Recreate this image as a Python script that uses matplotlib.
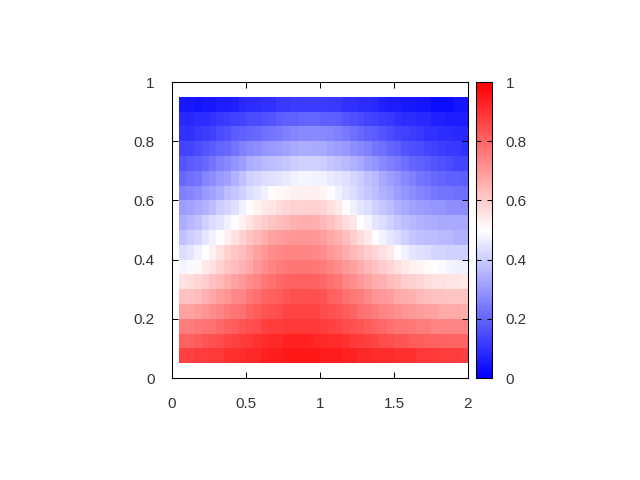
import numpy as np
import matplotlib
matplotlib.use('Agg')
import matplotlib.pyplot as plt
from matplotlib.colors import LinearSegmentedColormap

plt.rcParams['font.family'] = ['Liberation Sans', 'DejaVu Sans']

# cell edges of the map
x_edges = np.arange(0.05, 2.0001, 0.05)
y_edges = np.arange(0.05, 0.9501, 0.05)

# values row by row, bottom row first
row_05 = [.87,.87,.88,.88,.89,.89,.90,.90,.91,.92,.92,.93,.94,.94,.95,.95,.95,.95,.95,.94,.94,.94,.93,.93,.92,.92,.91,.91,.91,.90,.90,.90,.89,.89,.89,.88,.88,.88,.87]
row_10 = [.81,.81,.82,.83,.84,.85,.86,.87,.88,.89,.90,.91,.92,.92,.93,.93,.93,.93,.92,.92,.91,.91,.90,.89,.88,.87,.86,.85,.84,.83,.83,.82,.82,.81,.81,.81,.80,.80,.80]
row_15 = [.75,.75,.76,.77,.78,.79,.81,.82,.83,.84,.85,.87,.88,.88,.89,.89,.89,.89,.89,.88,.87,.86,.85,.84,.83,.82,.80,.79,.78,.77,.77,.76,.75,.75,.74,.74,.74,.74,.74]
row_20 = [.68,.68,.69,.71,.72,.74,.75,.77,.78,.80,.82,.83,.84,.85,.86,.86,.86,.86,.86,.85,.84,.83,.82,.80,.78,.77,.75,.74,.73,.72,.71,.70,.69,.68,.68,.67,.67,.67,.66]
row_25 = [.62,.62,.63,.65,.67,.69,.71,.73,.74,.76,.78,.80,.81,.82,.83,.84,.84,.84,.84,.83,.81,.80,.78,.76,.75,.73,.71,.70,.69,.67,.66,.65,.64,.63,.62,.62,.61,.61,.61]
row_30 = [.56,.57,.58,.60,.62,.64,.66,.68,.70,.72,.74,.76,.78,.79,.80,.81,.81,.81,.80,.79,.78,.76,.74,.72,.70,.68,.66,.65,.63,.62,.60,.59,.58,.57,.56,.56,.55,.55,.54]
row_35 = [.48,.49,.51,.54,.56,.59,.61,.63,.65,.67,.70,.72,.74,.75,.76,.77,.77,.77,.76,.75,.74,.72,.70,.68,.66,.64,.62,.60,.58,.56,.54,.53,.52,.51,.50,.49,.48,.47,.47]
row_40 = [.43,.45,.47,.50,.53,.56,.59,.61,.63,.65,.68,.70,.72,.73,.74,.74,.74,.74,.73,.72,.70,.68,.66,.64,.62,.60,.58,.56,.54,.50,.47,.45,.44,.43,.42,.42,.41,.41,.41]
row_45 = [.38,.40,.42,.45,.47,.50,.53,.56,.59,.61,.64,.66,.68,.69,.70,.71,.71,.71,.70,.69,.67,.65,.63,.60,.57,.54,.50,.47,.45,.43,.41,.39,.38,.37,.37,.36,.36,.35,.35]
row_50 = [.34,.36,.38,.41,.43,.45,.47,.50,.53,.55,.58,.60,.61,.63,.64,.65,.66,.66,.65,.64,.62,.60,.57,.55,.50,.48,.45,.43,.41,.39,.37,.36,.35,.34,.34,.33,.33,.33,.33]
row_55 = [.31,.32,.33,.35,.37,.40,.42,.44,.47,.50,.52,.54,.55,.57,.58,.59,.59,.59,.59,.58,.56,.54,.50,.47,.45,.43,.41,.39,.37,.35,.33,.32,.31,.30,.29,.29,.28,.28,.28]
row_60 = [.25,.26,.28,.30,.32,.34,.37,.39,.41,.43,.45,.47,.50,.51,.52,.53,.53,.53,.53,.52,.50,.47,.45,.43,.41,.39,.37,.35,.33,.31,.29,.28,.26,.25,.24,.23,.23,.22,.22]
row_65 = [.21,.22,.23,.26,.28,.30,.32,.35,.38,.41,.42,.43,.44,.45,.46,.47,.48,.48,.47,.47,.46,.45,.44,.42,.40,.38,.36,.33,.31,.29,.27,.25,.23,.22,.21,.20,.19,.19,.18]
row_70 = [.17,.18,.19,.21,.23,.25,.27,.29,.31,.34,.35,.36,.37,.38,.39,.40,.41,.41,.41,.40,.39,.38,.36,.35,.33,.31,.29,.27,.25,.24,.22,.20,.19,.18,.17,.16,.15,.14,.14]
row_75 = [.14,.14,.15,.17,.18,.20,.21,.23,.25,.27,.28,.29,.30,.31,.32,.33,.34,.34,.33,.33,.32,.31,.30,.28,.27,.25,.23,.22,.20,.19,.17,.16,.15,.14,.13,.12,.11,.11,.10]
row_80 = [.10,.10,.11,.12,.13,.15,.16,.18,.19,.20,.21,.22,.23,.24,.25,.26,.27,.27,.27,.27,.26,.25,.24,.22,.21,.19,.18,.17,.15,.14,.13,.12,.11,.10,.10,.09,.09,.08,.08]
row_85 = [.08,.08,.09,.09,.10,.11,.12,.13,.14,.15,.15,.16,.17,.18,.19,.19,.20,.20,.20,.19,.19,.18,.17,.16,.15,.14,.13,.12,.11,.10,.09,.09,.08,.08,.07,.07,.06,.06,.06]
row_90 = [.05,.05,.04,.05,.05,.06,.06,.07,.08,.09,.09,.10,.10,.11,.11,.12,.12,.12,.12,.12,.11,.11,.10,.10,.09,.09,.08,.07,.06,.06,.05,.05,.04,.04,.03,.03,.03,.04,.04]

z = np.array([row_05, row_10, row_15, row_20, row_25, row_30, row_35, row_40, row_45,
              row_50, row_55, row_60, row_65, row_70, row_75, row_80, row_85, row_90])

x_ticks = [0, 0.5, 1, 1.5, 2]
x_labels = ['0', '0.5', '1', '1.5', '2']
y_ticks = [0, 0.2, 0.4, 0.6, 0.8, 1]
y_labels = ['0', '0.2', '0.4', '0.6', '0.8', '1']

# blue-white-red palette with small steps like the original
cmap = LinearSegmentedColormap.from_list('bwr_steps', ['#0000ff', '#ffffff', '#ff0000'], N=128)

fig = plt.figure(figsize=(6.4, 4.8), dpi=100)

# axes placed in pixels of the 640x480 picture
ax = fig.add_axes([172 / 640, 1 - 378 / 480, 296 / 640, 296 / 480])
cax = fig.add_axes([476 / 640, 1 - 378 / 480, 15.5 / 640, 296 / 480])

mesh = ax.pcolormesh(x_edges, y_edges, z, cmap=cmap, vmin=0, vmax=1)
ax.set_xlim(0, 2)
ax.set_ylim(0, 1)
ax.set_xticks(x_ticks)
ax.set_xticklabels(x_labels)
ax.set_yticks(y_ticks)
ax.set_yticklabels(y_labels)
ax.tick_params(direction='in', top=True, right=True, length=4.3, width=0.75,
               labelsize=11, labelcolor='#333333')
ax.tick_params(axis='x', pad=14)
ax.tick_params(axis='y', pad=12.5)

cb = fig.colorbar(mesh, cax=cax)
cb.set_ticks(y_ticks)
cb.set_ticklabels(y_labels)
cb.ax.tick_params(direction='in', left=True, right=True, length=3.6, width=0.75,
                  labelsize=11, pad=10, labelcolor='#333333')

for a in [ax, cax]:
    for s in a.spines.values():
        s.set_linewidth(0.75)
cb.outline.set_linewidth(0.75)

fig.savefig('out.png', dpi=100)
